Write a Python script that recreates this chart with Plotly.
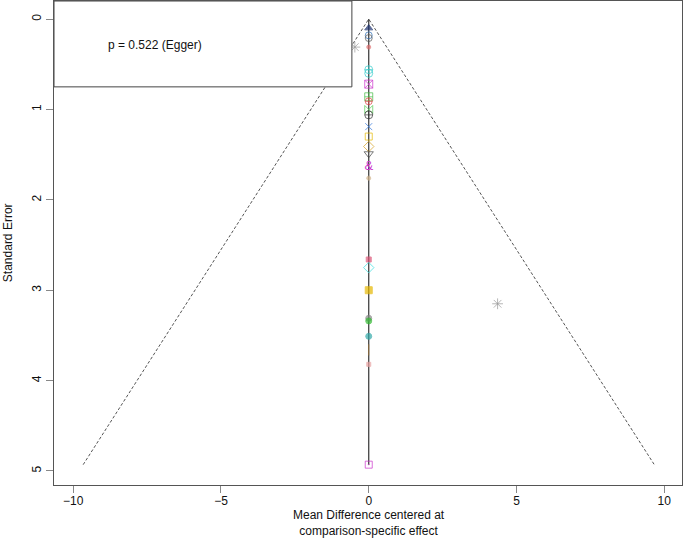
"""
funnel.py
---------------------------------
Comparison-adjusted funnel plot
Using Plotly
"""

import plotly.graph_objects as go

# ==========================================================
# DATA
# ==========================================================

# centered mean differences and standard errors of each comparison
effect = [
    0.0, 0.0, 0.0, 0.0, -0.47, 0.0, 0.0, 0.0, 0.0, 0.0,
    0.0, 0.0, 0.0, 0.0, 0.0, 0.0, 0.0, 0.0, 0.0, 0.0,
    0.0, 0.0, 0.0, 0.0, 0.0, 0.0, 0.0, 4.36,
]

std_error = [
    0.10, 0.18, 0.21, 0.31, 0.31, 0.56, 0.60, 0.72, 0.86, 0.91,
    1.00, 1.06, 1.19, 1.30, 1.41, 1.49, 1.76, 2.66, 2.75, 3.00,
    3.31, 3.34, 3.51, 3.66, 3.82, 4.93, 1.63, 3.15,
]

egger_text = "p = 0.522 (Egger)"

x_ticks = [-10, -5, 0, 5, 10]
y_ticks = [0, 1, 2, 3, 4, 5]

# ==========================================================
# MARKER STYLES
# ==========================================================

symbols = [
    "triangle-up", "circle-open", "circle-open", "circle", "asterisk-open",
    "circle-cross-open", "circle-open", "square-x-open", "square-cross-open",
    "circle-cross-open", "bowtie-open", "circle-cross-open", "x-thin-open",
    "square-open", "diamond-open", "triangle-down-open", "circle",
    "square", "diamond-open", "square", "circle", "circle", "circle",
    "line-ns-open", "square", "square-open-dot", "circle", "asterisk-open",
]

colors = [
    "#1a2f6e", "#2f6fb5", "#555555", "#e07070", "#999999",
    "#33cccc", "#33cccc", "#cc33cc", "#44bb44",
    "#dd4444", "#55cc55", "#333333", "#3377dd",
    "#e6b800", "#d4a020", "#444444", "#d2b48c",
    "#dd5577", "#33dddd", "#e6b800", "#888888", "#33bb33", "#33aaaa",
    "#aa7733", "#e8a0a0", "#cc33cc", "rgba(0,0,0,0)", "#999999",
]

sizes = [
    7, 7, 7, 4, 9,
    8, 8, 8, 8,
    7, 8, 8, 7,
    7, 8, 8, 4,
    5, 8, 7, 6, 6, 6,
    8, 4, 7, 1, 9,
]

# ==========================================================
# FUNNEL PLOT
# ==========================================================

se_max = max(std_error)

fig = go.Figure()

# pseudo confidence region
fig.add_trace(

    go.Scatter(

        x=[-1.96 * se_max, 0, 1.96 * se_max],

        y=[se_max, 0, se_max],

        mode="lines",

        line=dict(color="#555555", width=1, dash="3px,2px"),

        hoverinfo="skip"

    )

)

# reference line
fig.add_trace(

    go.Scatter(

        x=[0, 0],

        y=[0, se_max],

        mode="lines",

        line=dict(color="#333333", width=1.2),

        hoverinfo="skip"

    )

)

fig.add_trace(

    go.Scatter(

        x=effect,

        y=std_error,

        mode="markers",

        marker=dict(

            symbol=symbols,

            color=colors,

            size=sizes,

            line=dict(color=colors, width=1)

        )

    )

)

# the "&" glyph used in the plot
fig.add_trace(

    go.Scatter(

        x=[effect[26]],

        y=[std_error[26]],

        mode="text",

        text=["&"],

        textfont=dict(color="#cc33cc", size=13, family="Liberation Sans")

    )

)

# legend box with Egger test
fig.add_shape(

    type="rect",

    xref="x",

    yref="y",

    x0=-10.65,

    x1=-0.57,

    y0=-0.2,

    y1=0.75,

    line=dict(color="#444444", width=1),

    fillcolor="white",

    layer="above"

)

fig.add_annotation(

    x=-8.9,

    y=0.29,

    xref="x",

    yref="y",

    text=egger_text,

    showarrow=False,

    xanchor="left",

    font=dict(size=12, color="#111111")

)

# axis titles
fig.add_annotation(

    x=0,

    y=-0.0455,

    xref="x",

    yref="paper",

    text="Mean Difference centered at<br>comparison-specific effect",

    showarrow=False,

    xanchor="center",

    yanchor="top",

    borderpad=0,

    font=dict(size=12, color="#111111")

)

fig.add_annotation(

    x=-0.073,

    y=0.5,

    xref="paper",

    yref="paper",

    text="Standard Error",

    textangle=-90,

    showarrow=False,

    xanchor="center",

    yanchor="middle",

    font=dict(size=12, color="#111111")

)

axis_style = dict(

    showgrid=False,

    zeroline=False,

    showline=True,

    mirror=True,

    automargin=False,

    linecolor="#555555",

    linewidth=1,

    ticks="outside",

    ticklen=7,

    tickcolor="#888888",

    tickfont=dict(size=12, color="#111111")

)

fig.update_xaxes(

    range=[-10.65, 10.6],

    tickvals=x_ticks,

    ticklabelstandoff=-2,

    **axis_style

)

fig.update_yaxes(

    range=[5.155, -0.2],

    tickvals=y_ticks,

    tickangle=-90,

    **axis_style

)

fig.update_layout(

    width=685,

    height=538,

    showlegend=False,

    plot_bgcolor="white",

    paper_bgcolor="white",

    font=dict(family="Liberation Sans, Arial, sans-serif"),

    margin=dict(
        l=54,
        r=3,
        t=1,
        b=53
    )

)

# drop the default page margin so the figure sits at the window corner
fig.write_html(

    "out.html",

    config={"displayModeBar": False},

    post_script="document.body.style.margin = '0';"

)
